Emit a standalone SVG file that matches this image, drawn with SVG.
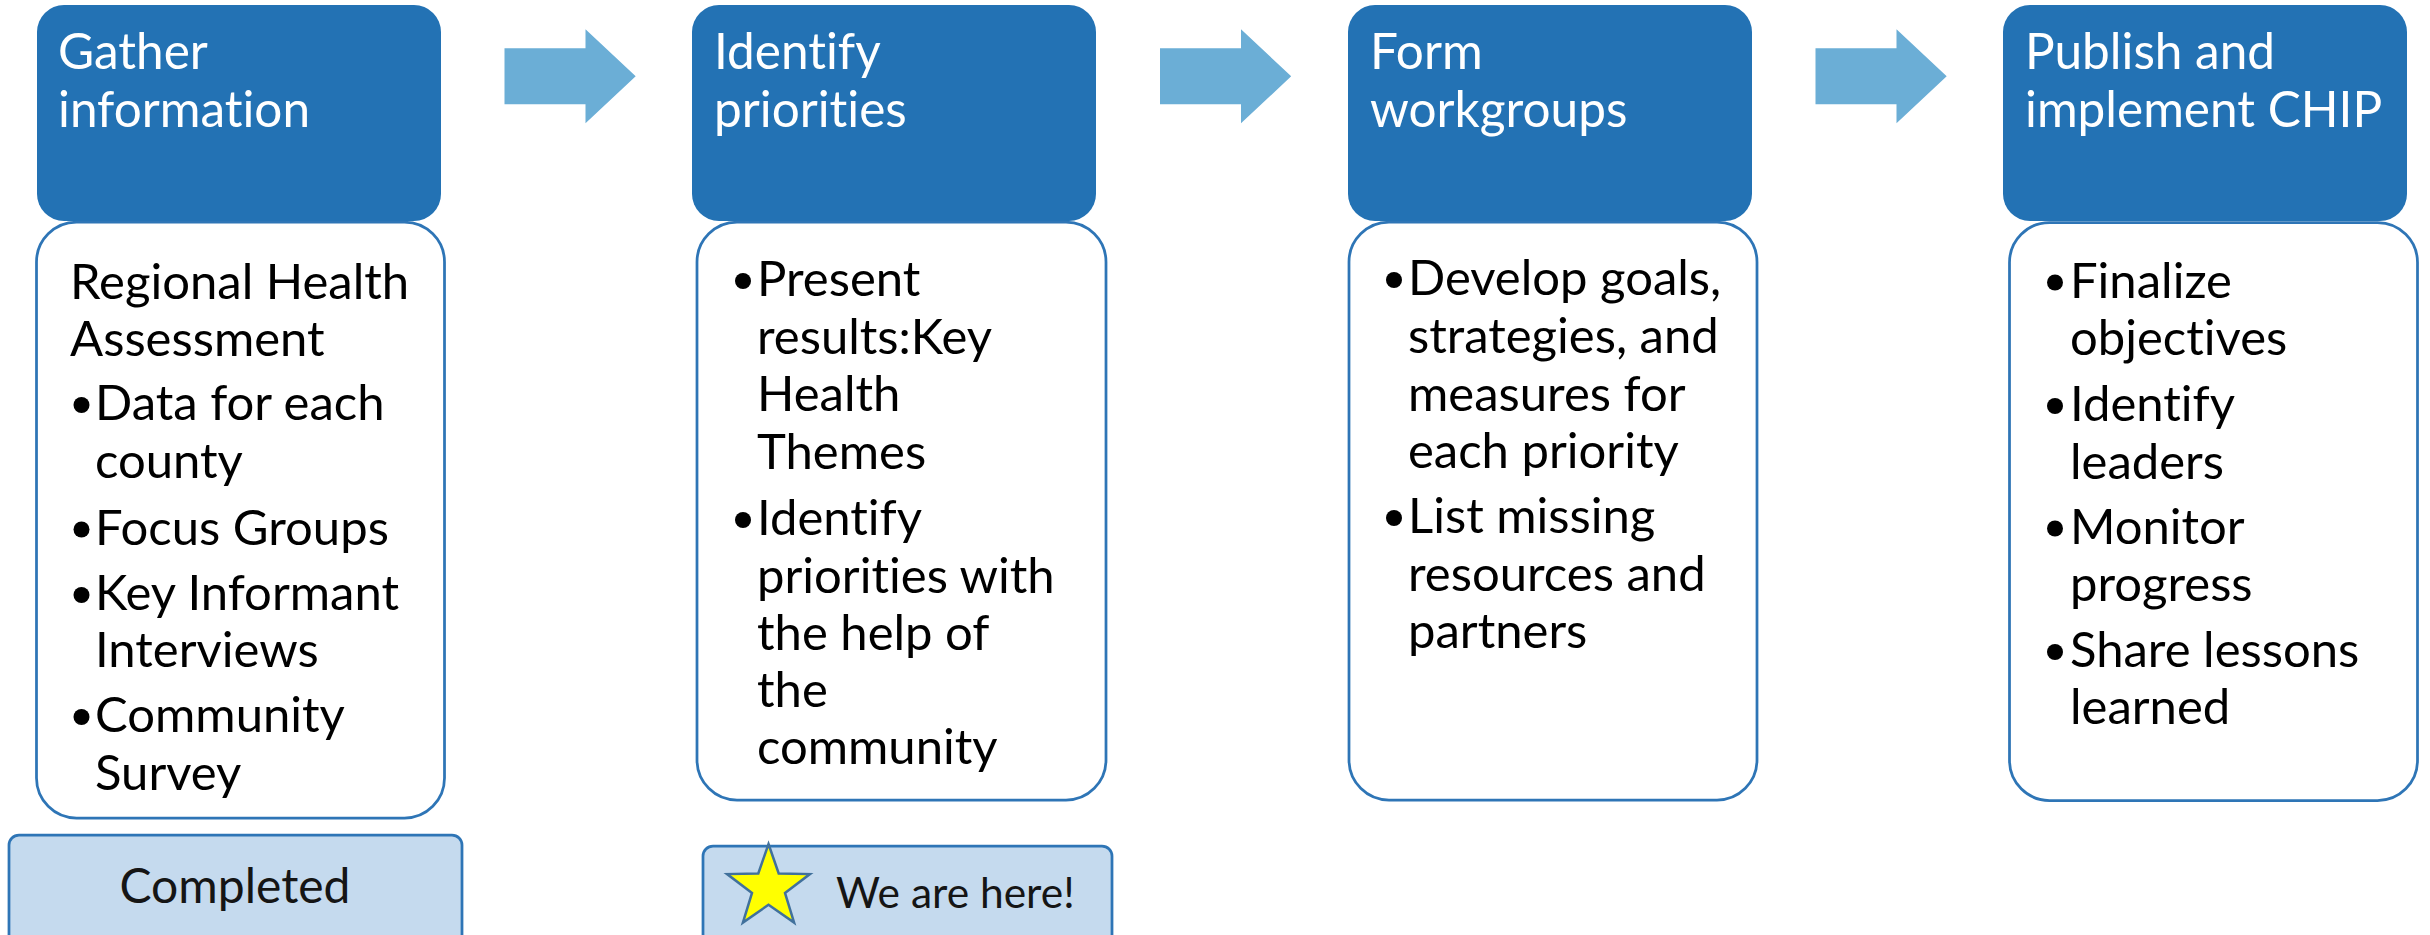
<svg xmlns="http://www.w3.org/2000/svg" width="2430" height="935" viewBox="0 0 2430 935">
<style>
text{font-variant-ligatures:none;font-feature-settings:"liga" 0;}
.hdr{fill:#2372B4;}
.body{fill:#FFFFFF;stroke:#2E75B6;stroke-width:2.75;}
.arrow{fill:#6BAED6;}
.ht{font-family:Lato,"Liberation Sans",sans-serif;font-size:49.5px;fill:#FFFFFF;}
.bt{font-family:Lato,"Liberation Sans",sans-serif;font-size:49px;fill:#000000;}
.bul{fill:#000000;}
.tag{fill:#C5DAEE;stroke:#2E75B6;stroke-width:2.75;}
.tt{font-family:Lato,"Liberation Sans",sans-serif;fill:#151515;}
</style>
<rect width="2430" height="935" fill="#FFFFFF"/>
<g id="connectors">
<polygon class="arrow" points="504.5,48.3 585.5,48.3 585.5,29.3 635.7,76.3 585.5,123.3 585.5,104.3 504.5,104.3"/>
<polygon class="arrow" points="1160,48.3 1241,48.3 1241,29.3 1291.2,76.3 1241,123.3 1241,104.3 1160,104.3"/>
<polygon class="arrow" points="1815.5,48.3 1896.5,48.3 1896.5,29.3 1946.7,76.3 1896.5,123.3 1896.5,104.3 1815.5,104.3"/>
</g>
<g id="step1">
<rect class="hdr" x="37" y="5" width="404" height="216" rx="27"/>
<text class="ht" x="58" y="69">Gather</text>
<text class="ht" x="58" y="127">information</text>
<rect class="body" x="36.5" y="222" width="408" height="596" rx="40"/>
<text class="bt" x="70" y="298.5">Regional Health</text>
<text class="bt" x="70" y="356">Assessment</text>
<circle class="bul" cx="81.5" cy="405" r="8"/>
<text class="bt" x="95" y="420">Data for each</text>
<text class="bt" x="95" y="477.5">county</text>
<circle class="bul" cx="81.5" cy="529.5" r="8"/>
<text class="bt" x="95" y="544.5">Focus Groups</text>
<circle class="bul" cx="81.5" cy="595" r="8"/>
<text class="bt" x="95" y="610">Key Informant</text>
<text class="bt" x="95" y="667">Interviews</text>
<circle class="bul" cx="81.5" cy="717" r="8"/>
<text class="bt" x="95" y="732">Community</text>
<text class="bt" x="95" y="790">Survey</text>
</g>
<g id="completed">
<rect class="tag" x="9" y="835" width="453" height="120" rx="10"/>
<text class="tt" x="235" y="903" font-size="48" text-anchor="middle">Completed</text>
</g>
<g id="step2">
<rect class="hdr" x="692" y="5" width="404" height="216" rx="27"/>
<text class="ht" x="714" y="69">Identify</text>
<text class="ht" x="714" y="127">priorities</text>
<rect class="body" x="697" y="222" width="409" height="578" rx="40"/>
<circle class="bul" cx="743" cy="281" r="8"/>
<text class="bt" x="757" y="296">Present</text>
<text class="bt" x="757" y="353.5">results:Key</text>
<text class="bt" x="757" y="411">Health</text>
<text class="bt" x="757" y="469">Themes</text>
<circle class="bul" cx="743" cy="520" r="8"/>
<text class="bt" x="757" y="535">Identify</text>
<text class="bt" x="757" y="592.5">priorities with</text>
<text class="bt" x="757" y="650">the help of</text>
<text class="bt" x="757" y="707">the</text>
<text class="bt" x="757" y="764">community</text>
</g>
<g id="here">
<rect class="tag" x="703" y="846" width="409" height="120" rx="10"/>
<polygon points="768.5,844 778.7,873.4 809.9,874.1 785,892.9 794.1,922.6 768.5,904.8 742.9,922.6 752,892.9 727.1,874.1 758.3,873.4" fill="#FFFF00" stroke="#41719C" stroke-width="2.5" stroke-linejoin="miter"/>
<text class="tt" x="836" y="908" font-size="42.5">We are here!</text>
</g>
<g id="step3">
<rect class="hdr" x="1348" y="5" width="404" height="216" rx="27"/>
<text class="ht" x="1370" y="69">Form</text>
<text class="ht" x="1370" y="127">workgroups</text>
<rect class="body" x="1349" y="222" width="408" height="578" rx="40"/>
<circle class="bul" cx="1394" cy="280" r="8"/>
<text class="bt" x="1408" y="295">Develop goals,</text>
<text class="bt" x="1408" y="353">strategies, and</text>
<text class="bt" x="1408" y="411">measures for</text>
<text class="bt" x="1408" y="468">each priority</text>
<circle class="bul" cx="1394" cy="518" r="8"/>
<text class="bt" x="1408" y="533">List missing</text>
<text class="bt" x="1408" y="591">resources and</text>
<text class="bt" x="1408" y="648">partners</text>
</g>
<g id="step4">
<rect class="hdr" x="2003" y="5" width="404" height="216" rx="27"/>
<text class="ht" x="2025" y="69">Publish and</text>
<text class="ht" x="2025" y="127">implement CHIP</text>
<rect class="body" x="2009.5" y="222.5" width="408" height="578" rx="40"/>
<circle class="bul" cx="2055" cy="282.5" r="8"/>
<text class="bt" x="2070" y="297.5">Finalize</text>
<text class="bt" x="2070" y="355">objectives</text>
<circle class="bul" cx="2055" cy="406" r="8"/>
<text class="bt" x="2070" y="421">Identify</text>
<text class="bt" x="2070" y="478.5">leaders</text>
<circle class="bul" cx="2055" cy="528.5" r="8"/>
<text class="bt" x="2070" y="543.5">Monitor</text>
<text class="bt" x="2070" y="601">progress</text>
<circle class="bul" cx="2055" cy="652" r="8"/>
<text class="bt" x="2070" y="667">Share lessons</text>
<text class="bt" x="2070" y="724">learned</text>
</g>
</svg>
